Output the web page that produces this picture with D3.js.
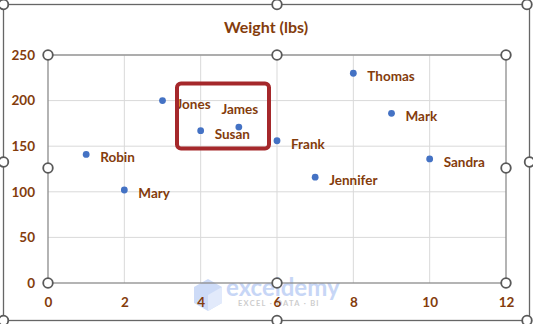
<!DOCTYPE html>
<html>
<head>
<meta charset="utf-8">
<script src="https://cdn.jsdelivr.net/npm/d3@7"></script>
<style>
  body { margin: 0; background: #fff; }
  text { font-family: Lato, "Liberation Sans", sans-serif; }
</style>
</head>
<body>
<svg width="533" height="324"></svg>
<script>
// data
const names = ['Robin', 'Mary', 'Jones', 'Susan', 'James', 'Frank', 'Jennifer', 'Thomas', 'Mark', 'Sandra'];
const ids = [1, 2, 3, 4, 5, 6, 7, 8, 9, 10];
const weights = [141, 102, 200, 167, 171, 156, 116, 230, 186, 136];
const xTicks = [0, 2, 4, 6, 8, 10, 12];
const yTicks = [0, 50, 100, 150, 200, 250];
const chartTitle = 'Weight (lbs)';

const svg = d3.select('svg');
const brown = '#843C0C';
const pLeft = 48, pRight = 506, pTop = 55, pBottom = 283;

const x = d3.scaleLinear().domain([0, 12]).range([pLeft, pRight]);
const y = d3.scaleLinear().domain([0, 250]).range([pBottom, pTop]);

const points = names.map((n, i) => ({name: n, id: ids[i], w: weights[i]}));

// outer chart frame
svg.append('rect')
  .attr('x', 3.5).attr('y', 4.5)
  .attr('width', 526).attr('height', 316)
  .attr('fill', '#fff')
  .attr('stroke', '#666').attr('stroke-width', 1.3);

svg.append('text')
  .attr('x', 266).attr('y', 33)
  .attr('text-anchor', 'middle')
  .attr('font-size', 16).attr('font-weight', 'bold')
  .attr('fill', brown)
  .text(chartTitle);

// gridlines
svg.append('g').selectAll('line').data(yTicks.slice(1))
  .enter().append('line')
    .attr('x1', pLeft).attr('x2', pRight)
    .attr('y1', d => y(d)).attr('y2', d => y(d))
    .attr('stroke', '#d9d9d9');
svg.append('g').selectAll('line').data(xTicks.slice(1, -1))
  .enter().append('line')
    .attr('x1', d => x(d)).attr('x2', d => x(d))
    .attr('y1', pTop).attr('y2', pBottom)
    .attr('stroke', '#d9d9d9');

// watermark
const wm = svg.append('g').attr('opacity', 0.7);
wm.append('path')
  .attr('d', 'M208,279 L222,287 L222,303 L208,311 L194,303 L194,287 Z')
  .attr('fill', '#b9cdf5');
wm.append('path')
  .attr('d', 'M208,295 L222,287 L222,303 L208,311 Z')
  .attr('fill', '#d6e2fa');
wm.append('text')
  .attr('x', 226).attr('y', 296)
  .attr('font-size', 24).attr('font-weight', 'bold')
  .attr('fill', '#b0c6f3')
  .text('exceldemy');
wm.append('text')
  .attr('x', 238).attr('y', 306)
  .attr('font-size', 7.5).attr('font-weight', 'bold')
  .attr('letter-spacing', 1.3)
  .attr('fill', '#b8b8b8')
  .text('EXCEL · DATA · BI');

// plot area border (selected)
svg.append('rect')
  .attr('x', pLeft).attr('y', pTop)
  .attr('width', pRight - pLeft).attr('height', pBottom - pTop)
  .attr('fill', 'none')
  .attr('stroke', '#8c8c8c').attr('stroke-width', 1.3);

// axes
const yAxis = d3.axisLeft(y).tickValues(yTicks).tickSize(0).tickPadding(13);
const xAxis = d3.axisBottom(x).tickValues(xTicks).tickSize(0).tickPadding(14);

const gy = svg.append('g').attr('transform', `translate(${pLeft},0)`).call(yAxis);
const gx = svg.append('g').attr('transform', `translate(0,${pBottom})`).call(xAxis);
[gx, gy].forEach(g => {
  g.select('.domain').remove();
  g.selectAll('text')
    .attr('font-family', 'Lato, "Liberation Sans", sans-serif')
    .attr('font-size', 13.5).attr('font-weight', 'bold')
    .attr('fill', brown);
});

// points
svg.append('g').selectAll('circle').data(points)
  .enter().append('circle')
    .attr('cx', d => x(d.id)).attr('cy', d => y(d.w))
    .attr('r', 3.4)
    .attr('fill', '#4472C4');

// labels - James sits above its point, the rest to the right
svg.append('g').selectAll('text').data(points)
  .enter().append('text')
    .attr('x', d => d.name === 'James' ? x(d.id) + 1 : x(d.id) + 14)
    .attr('y', d => d.name === 'James' ? y(d.w) - 13 : y(d.w) + 8)
    .attr('text-anchor', d => d.name === 'James' ? 'middle' : 'start')
    .attr('font-size', 13.5).attr('font-weight', 'bold')
    .attr('fill', brown)
    .text(d => d.name);

// red highlight box
svg.append('rect')
  .attr('x', 177).attr('y', 83.5)
  .attr('width', 92).attr('height', 65)
  .attr('rx', 4)
  .attr('fill', 'none')
  .attr('stroke', '#A5282B').attr('stroke-width', 4);

// selection handles
const handles = [
  [3.5, 4.5], [277, 4.5], [527, 4.5], [3.5, 162], [529.5, 162], [3.5, 320.5], [277, 320.5], [527, 320.5],
  [pLeft, pTop], [277, pTop], [pRight, pTop], [pLeft, 168], [pRight, 168], [pLeft, pBottom], [277, pBottom], [pRight, pBottom]
];
svg.append('g').selectAll('circle').data(handles)
  .enter().append('circle')
    .attr('cx', d => d[0]).attr('cy', d => d[1])
    .attr('r', 4.8)
    .attr('fill', '#fff')
    .attr('stroke', '#595959').attr('stroke-width', 1.8);
</script>
</body>
</html>
